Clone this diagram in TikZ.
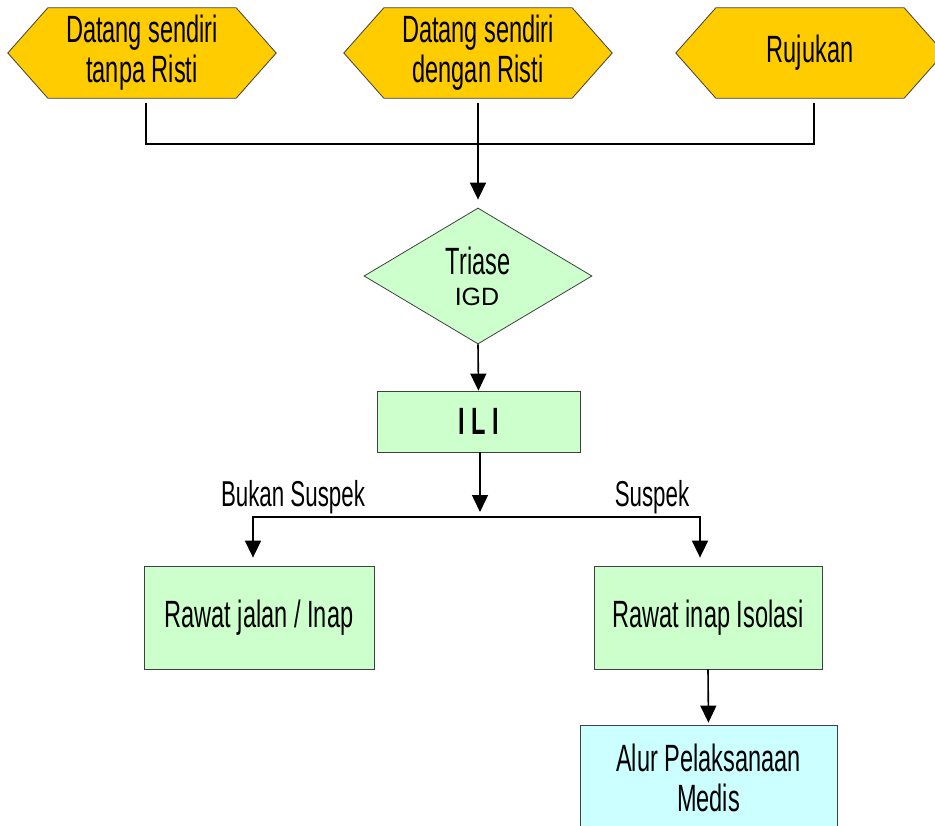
\documentclass[tikz,border=0pt]{standalone}
\usepackage{fontspec}
\setmainfont{Liberation Sans}
\newfontfamily\agency[FakeStretch=0.62]{Liberation Sans}
\usetikzlibrary{arrows.meta,shapes.geometric,calc,backgrounds}
\definecolor{gold}{HTML}{FFCC00}
\definecolor{mint}{HTML}{CCFFCC}
\definecolor{sky}{HTML}{CCFFFF}
\definecolor{edge}{HTML}{404040}
\tikzset{
  txt/.style={font=\agency\fontsize{38}{40}\selectfont, align=center, inner sep=0pt},
  hexnode/.style={txt, minimum width=268pt, minimum height=90pt},
  hexbox/.style={fill=gold, draw=edge, line width=0.8pt},
  greenbox/.style={txt, fill=mint, draw=edge, line width=0.8pt},
  bluebox/.style={txt, fill=sky, draw=edge, line width=0.8pt},
  conn/.style={line width=1.6pt, black},
  arr/.style={conn, -{Triangle[length=17pt,width=16pt]}},
  lbl/.style={font=\agency\fontsize{36}{38}\selectfont, inner sep=0pt},
}
\newcommand{\hexshape}[1]{%
  \begin{scope}[on background layer]
    \draw[hexbox] (#1.west) -- ($(#1.north west)+(40,0)$) -- ($(#1.north east)+(-40,0)$)
      -- (#1.east) -- ($(#1.south east)+(-40,0)$) -- ($(#1.south west)+(40,0)$) -- cycle;
  \end{scope}}
\begin{document}
\begin{tikzpicture}[x=1pt,y=-1pt]
\useasboundingbox (0,0) rectangle (935,826);
\clip (0,0) rectangle (935,826);

\node[hexnode] (h1) at (142,53) {Datang sendiri\\tanpa Risti};
\hexshape{h1}
\node[hexnode] (h2) at (478,53) {Datang sendiri\\dengan Risti};
\hexshape{h2}
\node[hexnode] (h3) at (810,53) {Rujukan};
\hexshape{h3}

\coordinate (jn) at (478,144);

\node[diamond, fill=mint, draw=edge, line width=0.8pt, inner sep=0pt,
      minimum width=228pt, minimum height=136pt] (tri) at (478,276) {};
\node[txt] (tri1) at (478,261) {Triase};
\node[font=\fontsize{25}{28}\selectfont, inner sep=0pt] (tri2) at (477,297) {IGD};

\node[greenbox, minimum width=203pt, minimum height=61pt] (ili) at (478.5,421.5)
  {\bfseries I L I};

\node[greenbox, minimum width=230pt, minimum height=103pt] (rj) at (259,617.5)
  {Rawat jalan / Inap};
\node[greenbox, minimum width=228pt, minimum height=103pt] (ri) at (708,617.5)
  {Rawat inap Isolasi};
\node[bluebox, minimum width=257pt, minimum height=105pt] (alur) at (708.5,777.5)
  {Alur Pelaksanaan\\Medis};

\coordinate (jn2) at (480,517);

\node[lbl] (lb1) at (293,497) {Bukan Suspek};
\node[lbl] (lb2) at (652,497) {Suspek};

% connectors
\draw[conn, shorten <=5pt] ([xshift=4pt]h1.south) |- (jn);
\draw[conn, shorten <=5pt] (h3.south) ++(4,0) coordinate (h3b) (h3b) |- (jn);
\draw[arr, shorten <=5pt, shorten >=8pt] (h2.south) -- (tri.north);
\draw[arr] (tri.south) -- (ili.north);
\draw[arr, shorten >=5pt] ([xshift=1.5pt]ili.south) -- (jn2);
\draw[arr, shorten >=8pt] (jn2) -| ([xshift=-6pt]rj.north);
\draw[arr, shorten >=8pt] (jn2) -| ([xshift=-8pt]ri.north);
\draw[arr, shorten >=2pt] (ri.south) -- (alur.north);
\end{tikzpicture}
\end{document}
